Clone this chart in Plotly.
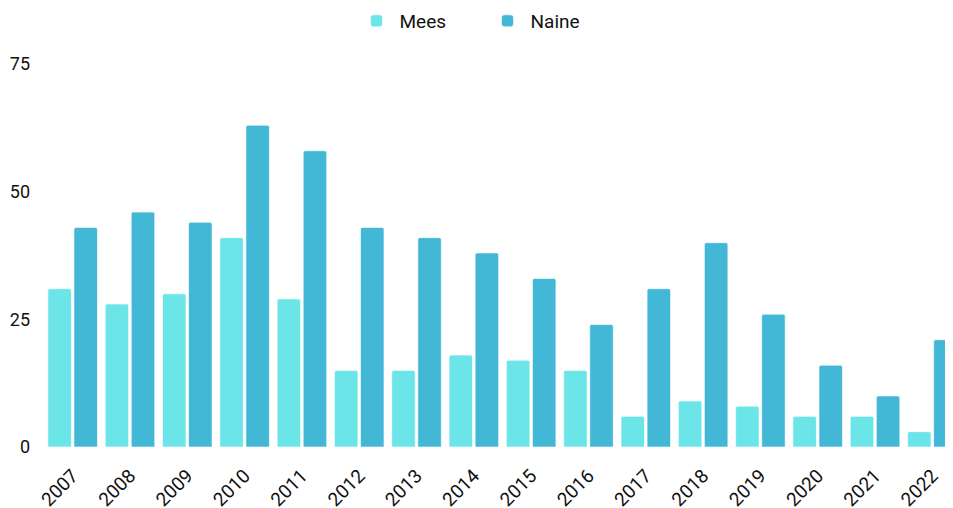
import plotly.graph_objects as go

years = ["2007", "2008", "2009", "2010", "2011", "2012", "2013", "2014",
         "2015", "2016", "2017", "2018", "2019", "2020", "2021", "2022"]
mees = [31, 28, 30, 41, 29, 15, 15, 18, 17, 15, 6, 9, 8, 6, 6, 3]
naine = [43, 46, 44, 63, 58, 43, 41, 38, 33, 24, 31, 40, 26, 16, 10, 21]
y_ticks = [0, 25, 50, 75]

fig = go.Figure()
fig.add_trace(go.Bar(
    x=years, y=mees, name="Mees",
    marker=dict(color="#6CE5E8", cornerradius=2,
                line=dict(color="rgba(255,255,255,0.6)", width=1)),
))
fig.add_trace(go.Bar(
    x=years, y=naine, name="Naine",
    marker=dict(color="#42B7D6", cornerradius=2,
                line=dict(color="rgba(255,255,255,0.6)", width=1)),
))

fig.update_layout(
    width=953, height=508,
    margin=dict(l=36, r=0, t=56, b=69, autoexpand=False),
    paper_bgcolor="white", plot_bgcolor="white",
    font=dict(family="Roboto, sans-serif", size=18, color="#111111"),
    barmode="group",
    bargap=0.09,
    bargroupgap=0.1,
    showlegend=True,
    legend=dict(
        orientation="h",
        xref="container", yref="container",
        x=0.5, xanchor="center",
        y=1 - 13 / 508, yanchor="middle",
        font=dict(size=19),
        itemwidth=36,
        entrywidth=80,
        traceorder="normal",
    ),
)
fig.update_xaxes(
    type="category",
    range=[-0.5, 15.5],
    tickangle=-45,
    showgrid=False, zeroline=False, showline=False,
    ticks="",
    automargin=False,
    ticklabelstandoff=13,
    tickfont=dict(size=19),
)
fig.update_yaxes(
    range=[0, 75],
    tickvals=y_ticks,
    showgrid=False, zeroline=False, showline=False,
    ticks="",
    automargin=False,
    ticklabelstandoff=13,
    tickfont=dict(size=18),
)

fig.write_html("out.html")
